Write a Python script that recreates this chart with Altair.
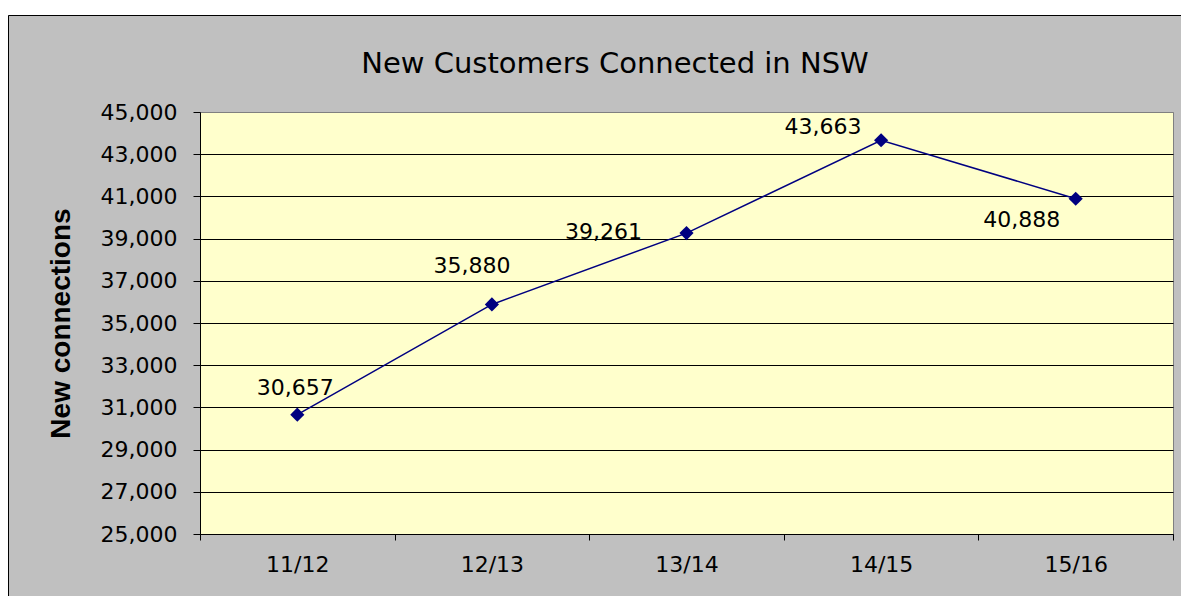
import altair as alt
import pandas as pd

# ---- data ----
title_text = "New Customers Connected in NSW"
years = ["11/12", "12/13", "13/14", "14/15", "15/16"]
connections = [30657, 35880, 39261, 43663, 40888]
y_ticks = [25000, 27000, 29000, 31000, 33000, 35000, 37000, 39000, 41000, 43000, 45000]

# label placement offsets (px) for each data label, as in the reference
label_dx = [-2, -20, -83, -58, -54]
label_dy = [-27, -38, -1, -13, 21]

df = pd.DataFrame({"year": years, "value": connections})

W, H = 973, 422
PAD_L, PAD_T = 192, 104
TOTAL_W, TOTAL_H = 1173, 588
NAVY = "#000080"
FONT = "DejaVu Sans"

x_enc = alt.X(
    "year:N",
    sort=years,
    bandPosition=0.5,
    scale=alt.Scale(type="band", paddingInner=0, paddingOuter=0),
    axis=alt.Axis(
        title=None,
        tickBand="extent",
        labelAngle=0,
        tickSize=6,
        labelPadding=14,
        labelBaseline="top",
        labelFont=FONT,
        labelFontSize=22,
        grid=False,
    ),
)
y_enc = alt.Y(
    "value:Q",
    scale=alt.Scale(domain=[25000, 45000], nice=False, zero=False),
    axis=alt.Axis(
        title="New connections",
        values=y_ticks,
        format=",.0f",
        tickSize=7,
        labelPadding=16,
        labelFont=FONT,
        labelFontSize=22,
        labelBaseline="middle",
        titleFont="Liberation Sans",
        titleFontSize=28,
        titleFontWeight="bold",
        titleAngle=270,
        titleAlign="center",
        titleBaseline="middle",
        titleX=-139,
        titleY=H / 2,
        grid=True,
        gridColor={"condition": {"test": "datum.value === 45000", "value": "#808080"}, "value": "black"},
        gridWidth=1,
    ),
)

deco = alt.Data(values=[{"k": 0}])
frame = alt.Chart(deco).mark_rect(fillOpacity=0, stroke="black", strokeWidth=1).encode(
    x=alt.value(-PAD_L + 0.5), x2=alt.value(W + 300), y=alt.value(-96.5), y2=alt.value(H + 300)
)
white_strip = alt.Chart(deco).mark_rect(fill="white", stroke=None).encode(
    x=alt.value(-PAD_L - 10), x2=alt.value(W + 300), y=alt.value(-PAD_T - 10), y2=alt.value(-97)
)
title = alt.Chart(deco).mark_text(
    text=title_text, font=FONT, fontSize=29, color="black", align="center", baseline="alphabetic"
).encode(x=alt.value(415), y=alt.value(-39))

line = alt.Chart(df).mark_line(color=NAVY, strokeWidth=1.5).encode(x=x_enc, y=y_enc)
points = alt.Chart(df).mark_point(
    shape="diamond", filled=True, size=200, color=NAVY, opacity=1
).encode(x=x_enc, y=y_enc)

label_layers = []
for yr, dx, dy in zip(years, label_dx, label_dy):
    label_layers.append(
        alt.Chart(df)
        .transform_filter(alt.datum.year == yr)
        .mark_text(dx=dx, dy=dy, font=FONT, fontSize=22, color="black", align="center", baseline="middle")
        .encode(x=x_enc, y=y_enc, text=alt.Text("value:Q", format=","))
    )

chart = (
    alt.layer(white_strip, frame, title, line, points, *label_layers)
    .properties(
        width=W,
        height=H,
        padding={"left": PAD_L, "top": PAD_T, "right": TOTAL_W - PAD_L - W, "bottom": TOTAL_H - PAD_T - H},
        autosize=alt.AutoSizeParams(type="none"),
        background="#C0C0C0",
    )
    .configure_view(fill="#FFFFCC", stroke="#808080", strokeWidth=1)
    .configure_axis(
        domainColor="black",
        domainWidth=1,
        tickColor="black",
        tickWidth=1,
        labelColor="black",
        titleColor="black",
        labelOverlap=False,
    )
)

chart.save("out.html", embed_options={"renderer": "svg", "actions": False})
